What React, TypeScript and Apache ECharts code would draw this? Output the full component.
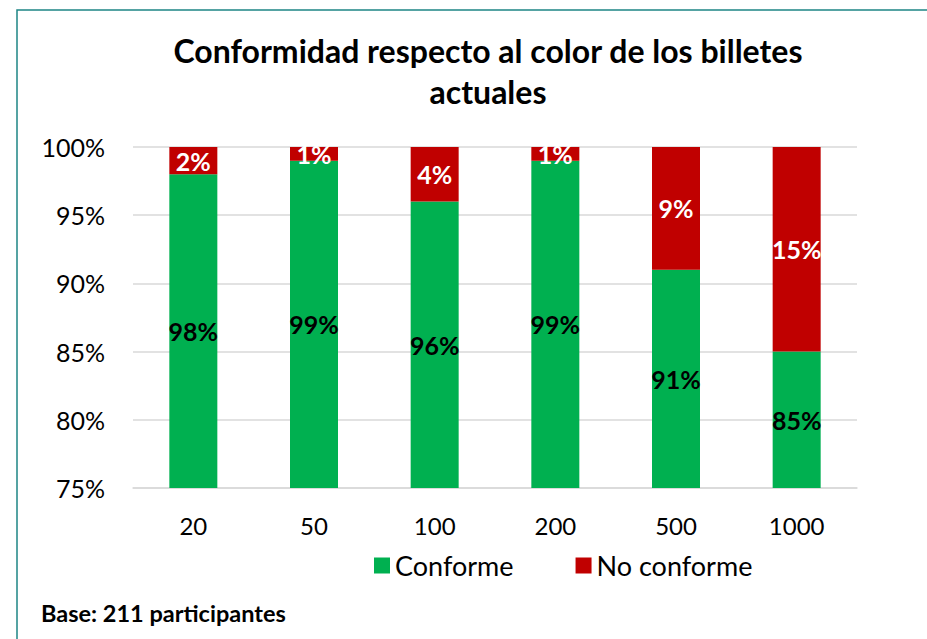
import React, { useEffect, useRef } from "react";
import * as echarts from "echarts";

const categories = ["20", "50", "100", "200", "500", "1000"];
const conforme = [98, 99, 96, 99, 91, 85];
const noConforme = [2, 1, 4, 1, 9, 15];
const yTicks = [75, 80, 85, 90, 95, 100];

const FONT = "Lato, 'Open Sans', sans-serif";

export default function App() {
  const ref = useRef<HTMLDivElement>(null);
  useEffect(() => {
    const chart = echarts.init(ref.current!, undefined, { renderer: "svg" });
    chart.setOption({
      animation: false,
      backgroundColor: "#ffffff",
      textStyle: { fontFamily: FONT },
      title: {
        text: "Conformidad respecto al color de los billetes\nactuales",
        left: 483,
        textAlign: "center",
        top: 25,
        textStyle: { fontFamily: FONT, fontSize: 32, fontWeight: "bold", color: "#000", lineHeight: 41 },
      },
      graphic: [
        {
          type: "rect",
          shape: { x: 17, y: 10, width: 1000, height: 700 },
          style: { fill: "none", stroke: "#1e8585", lineWidth: 1.5 },
          z: 100,
        },
        {
          type: "text",
          left: 41,
          top: 601,
          style: { text: "Base: 211 participantes", font: `bold 23.5px ${FONT}`, fill: "#000" },
        },
      ],
      legend: {
        top: 547,
        left: 369,
        itemWidth: 16,
        itemHeight: 16,
        itemGap: 62,
        icon: "rect",
        textStyle: { fontFamily: FONT, fontSize: 27, color: "#000" },
        data: ["Conforme", "No conforme"],
      },
      grid: { left: 133, right: 70, top: 147, bottom: 151 },
      xAxis: {
        type: "category",
        data: categories,
        axisLine: { show: true, lineStyle: { color: "#d9d9d9", width: 1.5 } },
        axisTick: { show: false },
        axisLabel: { fontFamily: FONT, fontSize: 24, color: "#000", margin: 25 },
      },
      yAxis: {
        type: "value",
        min: yTicks[0],
        max: yTicks[yTicks.length - 1],
        interval: 5,
        startValue: 75,
        axisLine: { show: false },
        axisTick: { show: false },
        splitLine: { lineStyle: { color: "#d9d9d9", width: 1.5 } },
        axisLabel: { fontFamily: FONT, fontSize: 25, color: "#000", margin: 28, formatter: (v: number) => `${v}%` },
      },
      series: [
        {
          name: "Conforme",
          type: "bar",
          stack: "total",
          barWidth: 48,
          data: conforme,
          itemStyle: { color: "#00b050" },
          label: {
            show: true,
            position: "inside",
            formatter: (p: any) => `${p.value}%`,
            fontFamily: FONT,
            fontSize: 25,
            fontWeight: "bold",
            color: "#000",
          },
        },
        {
          name: "No conforme",
          type: "bar",
          stack: "total",
          barWidth: 48,
          data: noConforme,
          itemStyle: { color: "#c00000" },
          label: {
            show: true,
            position: "inside",
            formatter: (p: any) => `${p.value}%`,
            fontFamily: FONT,
            fontSize: 25,
            fontWeight: "bold",
            color: "#fff",
          },
        },
      ],
    });
    return () => chart.dispose();
  }, []);
  return <div ref={ref} style={{ position: "fixed", left: 0, top: 0, width: 927, height: 639 }} />;
}
